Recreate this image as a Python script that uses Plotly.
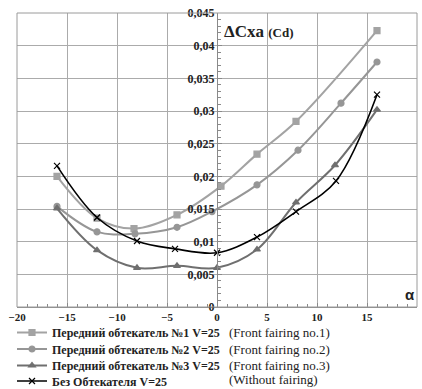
import plotly.graph_objects as go

# ---- data ----
s1_x = [-16, -12, -8.3, -4, 0.4, 4, 7.9, 16]
s1_y = [0.0200, 0.0136, 0.0120, 0.0141, 0.0185, 0.0234, 0.0284, 0.0423]

s2_x = [-16, -12, -8.2, -4, -0.5, 4, 8.1, 12.4, 16]
s2_y = [0.0154, 0.0115, 0.0112, 0.0122, 0.0146, 0.0187, 0.0240, 0.0312, 0.0375]

s3_x = [-16, -12, -8, -4, 0, 4, 7.9, 11.8, 16]
s3_y = [0.0151, 0.0087, 0.0060, 0.0063, 0.0060, 0.0088, 0.0160, 0.0217, 0.0302]

s4_x = [-16, -12, -8, -4.2, 0, 4, 7.9, 11.9, 16]
s4_y = [0.0216, 0.0137, 0.0101, 0.0089, 0.0083, 0.0107, 0.0146, 0.0193, 0.0325]

names_ru = ["Передний обтекатель №1 V=25",
            "Передний обтекатель №2 V=25",
            "Передний обтекатель №3 V=25",
            "Без Обтекателя V=25"]
names_en = ["(Front fairing no.1)", "(Front fairing no.2)",
            "(Front fairing no.3)", "(Without fairing)"]

x_range = [-20, 20]
y_range = [0, 0.045]

SERIF = "Liberation Serif, Times New Roman, serif"
W, H = 422, 389
ML, MR, MT, MB = 17, 5, 13, 82
PW, PH = W - ML - MR, H - MT - MB


def px_x(p):
    return (p - ML) / PW


def px_y(p):
    return (H - MB - p) / PH


fig = go.Figure()
series = [
    (s1_x, s1_y, "#a3a3a3", "square", 6, 2),
    (s2_x, s2_y, "#969696", "circle", 6, 2),
    (s3_x, s3_y, "#6f6f6f", "triangle-up", 6, 2),
    (s4_x, s4_y, "#000000", "x-thin", 6, 1.6),
]
legend_ids = ["legend", "legend2", "legend3", "legend4"]
for (xs, ys, col, sym, ms, lw), nm, lid in zip(series, names_ru, legend_ids):
    fig.add_trace(go.Scatter(
        x=xs, y=ys, mode="lines+markers", name="<b>" + nm + "</b>",
        legend=lid,
        line=dict(color=col, width=lw, shape="spline", smoothing=1.0),
        marker=dict(symbol=sym, size=ms, color=col,
                    line=dict(color=col, width=1.2)),
    ))

grid_col = "#ababab"
row_px = [332.5, 349, 365.5, 381]
legend_cfg = {}
for lid, rp in zip(legend_ids, row_px):
    legend_cfg[lid] = dict(x=px_x(12), y=px_y(rp), xanchor="left", yanchor="middle",
                           font=dict(family=SERIF, size=12, color="#222"),
                           bgcolor="rgba(0,0,0,0)", itemwidth=30)

fig.update_layout(
    width=W, height=H,
    margin=dict(l=ML, r=MR, t=MT, b=MB, autoexpand=False),
    paper_bgcolor="white", plot_bgcolor="white",
    separators=", ",
    font=dict(family=SERIF, color="#222222"),
    xaxis=dict(range=x_range, dtick=5, tick0=0, showgrid=True,
               gridcolor=grid_col, gridwidth=1, zeroline=False,
               showline=True, linecolor="#8a8a8a", linewidth=1,
               ticks="inside", ticklen=4, tickcolor="#8a8a8a",
               minor=dict(dtick=1, ticks="inside", ticklen=3,
                          tickcolor="#8a8a8a", showgrid=False),
               tickfont=dict(family=SERIF, size=11, weight="bold", color="#222"),
               automargin=False, fixedrange=True),
    yaxis=dict(range=y_range, dtick=0.005, tick0=0, showgrid=True,
               gridcolor=grid_col, gridwidth=1, zeroline=False,
               anchor="free", position=0.5,
               showline=True, linecolor="#8a8a8a", linewidth=1,
               ticks="inside", ticklen=4, tickcolor="#8a8a8a",
               minor=dict(dtick=0.001, ticks="inside", ticklen=3,
                          tickcolor="#8a8a8a", showgrid=False),
               tickfont=dict(family=SERIF, size=12, weight="bold", color="#222"),
               automargin=False, fixedrange=True),
    showlegend=True,
    **legend_cfg,
)

fig.add_shape(type="rect", xref="paper", yref="paper", x0=0, x1=1, y0=0, y1=1,
              line=dict(color="#9a9a9a", width=1), layer="above")

fig.add_annotation(xref="paper", yref="paper", x=px_x(222), y=px_y(32),
                   xanchor="left", yanchor="middle", showarrow=False,
                   text="<b>ΔCxa <span style='font-size:13px'>(Cd)</span></b>",
                   font=dict(family=SERIF, size=17, color="#222"))
fig.add_annotation(xref="paper", yref="paper", x=px_x(410), y=px_y(294),
                   xanchor="center", yanchor="middle", showarrow=False,
                   text="<b>α</b>", font=dict(family="Liberation Sans", size=15, color="#222"))

en_px = [332.5, 349, 365.5, 379.5]
for t, rp in zip(names_en, en_px):
    fig.add_annotation(xref="paper", yref="paper", x=px_x(227), y=px_y(rp),
                       xanchor="left", yanchor="middle", showarrow=False,
                       text=t, font=dict(family=SERIF, size=13, color="#222"))

fig.write_html("out.html", config={"displayModeBar": False},
               post_script="document.body.style.margin='0';document.body.style.overflow='hidden';")
